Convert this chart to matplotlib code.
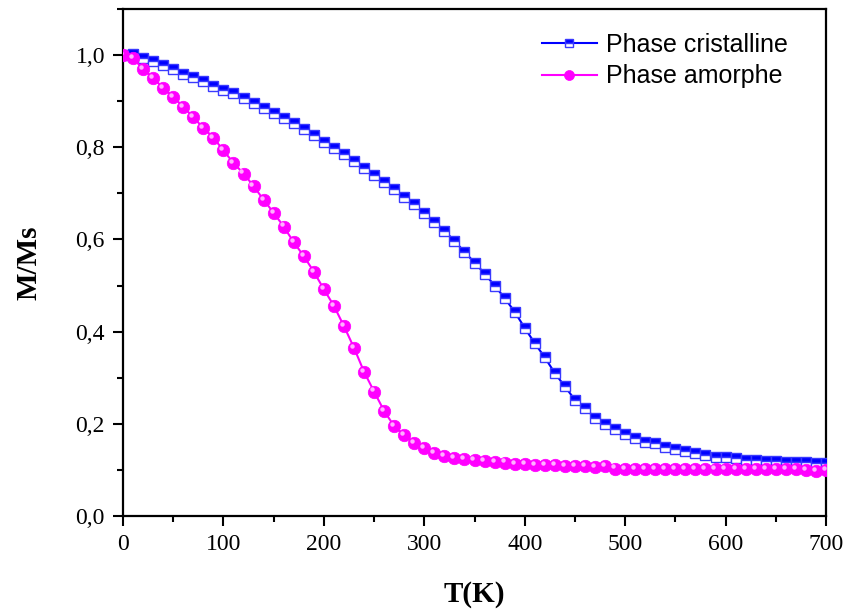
import matplotlib
matplotlib.use("Agg")
import matplotlib.pyplot as plt
import matplotlib.transforms as mtransforms
from matplotlib.ticker import MultipleLocator, FuncFormatter
import numpy as np

# Temperature grid (K)
temperature = list(range(0, 701, 10))

# Reduced magnetisation M/Ms, crystalline phase
m_cristalline = [
    1.000, 1.002, 0.993, 0.988, 0.978, 0.969, 0.959, 0.952, 0.943, 0.933,
    0.924, 0.917, 0.906, 0.897, 0.886, 0.875, 0.863, 0.852, 0.839, 0.826,
    0.812, 0.799, 0.785, 0.771, 0.756, 0.740, 0.725, 0.709, 0.693, 0.676,
    0.657, 0.638, 0.619, 0.597, 0.573, 0.550, 0.526, 0.500, 0.473, 0.443,
    0.408, 0.375, 0.344, 0.310, 0.281, 0.252, 0.234, 0.213, 0.200, 0.188,
    0.178, 0.170, 0.161, 0.158, 0.150, 0.145, 0.140, 0.136, 0.132, 0.129,
    0.129, 0.125, 0.121, 0.121, 0.119, 0.119, 0.118, 0.118, 0.118, 0.114,
    0.114,
]

# Reduced magnetisation M/Ms, amorphous phase
m_amorphe = [
    1.000, 0.993, 0.970, 0.950, 0.929, 0.909, 0.888, 0.865, 0.842, 0.821,
    0.793, 0.766, 0.743, 0.716, 0.686, 0.658, 0.628, 0.594, 0.564, 0.530,
    0.492, 0.456, 0.412, 0.365, 0.313, 0.270, 0.228, 0.195, 0.175, 0.159,
    0.147, 0.136, 0.130, 0.126, 0.124, 0.122, 0.119, 0.117, 0.116, 0.113,
    0.113, 0.110, 0.111, 0.110, 0.108, 0.108, 0.108, 0.107, 0.108, 0.103,
    0.102, 0.102, 0.102, 0.102, 0.102, 0.101, 0.102, 0.101, 0.102, 0.102,
    0.101, 0.101, 0.102, 0.101, 0.101, 0.101, 0.101, 0.101, 0.099, 0.098,
    0.100,
]

series_labels = ["Phase cristalline", "Phase amorphe"]
x_ticks = [0, 100, 200, 300, 400, 500, 600, 700]
y_ticks = [0.0, 0.2, 0.4, 0.6, 0.8, 1.0]

fig = plt.figure(figsize=(8.48, 6.10), dpi=100)
ax = fig.add_axes([123 / 848, 1 - 516 / 610, 703 / 848, 507 / 610])

blue = "#0000ff"
magenta = "#ff00ff"

# Crystalline phase: half-filled squares
ax.plot(temperature, m_cristalline, color=blue, lw=1.5, marker="s",
        markersize=7.5, fillstyle="top", markerfacecolor=blue,
        markerfacecoloralt="white", markeredgecolor="#3a3aff",
        markeredgewidth=1.0, zorder=3, label=series_labels[0])

# Amorphous phase: shaded balls
ax.plot(temperature, m_amorphe, color=magenta, lw=1.5, marker="o",
        markersize=9, markerfacecolor=magenta, markeredgecolor=magenta,
        markeredgewidth=0.5, zorder=4, label=series_labels[1])
shine = mtransforms.offset_copy(ax.transData, fig=fig, x=-1.5, y=1.5,
                                units="points")
ax.plot(temperature, m_amorphe, ls="none", marker="o", markersize=3.2,
        markerfacecolor="#ffb0ff", markeredgecolor="none",
        transform=shine, zorder=5)

ax.set_xlim(0, 700)
ax.set_ylim(0, 1.1)
ax.set_xticks(x_ticks)
ax.set_yticks(y_ticks)
ax.xaxis.set_minor_locator(MultipleLocator(50))
ax.yaxis.set_minor_locator(MultipleLocator(0.1))
ax.yaxis.set_major_formatter(FuncFormatter(lambda v, p: f"{v:.1f}".replace(".", ",")))
ax.xaxis.set_major_formatter(FuncFormatter(lambda v, p: f"{v:.0f}"))

serif = ["Liberation Serif", "DejaVu Serif"]
ax.tick_params(which="both", direction="out", top=False, right=False,
               width=1.5, labelsize=17, pad=6)
ax.tick_params(which="major", length=7)
ax.tick_params(which="minor", length=4)
for lab in ax.get_xticklabels() + ax.get_yticklabels():
    lab.set_fontfamily(serif)
for sp in ax.spines.values():
    sp.set_linewidth(1.6)

ax.set_xlabel("T(K)", fontsize=21, fontweight="bold", family=serif, labelpad=19)
ax.set_ylabel("M/Ms", fontsize=21, fontweight="bold", family=serif, labelpad=24)

leg = ax.legend(loc="upper left", frameon=False,
                prop={"family": "Liberation Sans", "size": 18},
                handlelength=2.2, handletextpad=0.35, labelspacing=0.3,
                markerscale=0.8, borderpad=0, borderaxespad=0,
                bbox_to_anchor=(0.596, 0.953))

fig.savefig("out.png", dpi=100)
